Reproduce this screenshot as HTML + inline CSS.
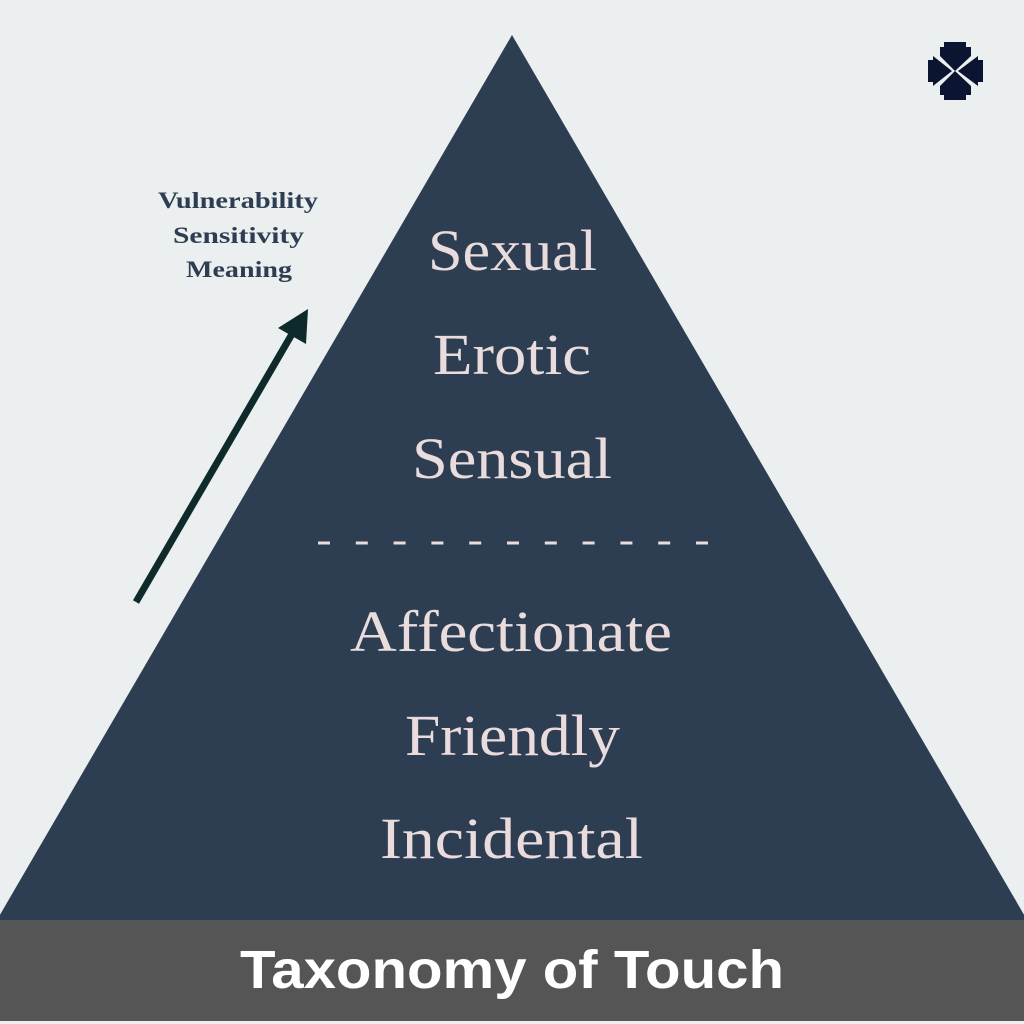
<!DOCTYPE html>
<html><head><meta charset="utf-8"><style>
html,body{margin:0;padding:0;background:#ebeff0;}
svg{display:block}
</style></head><body>
<svg width="1024" height="1024" viewBox="0 0 1024 1024" xmlns="http://www.w3.org/2000/svg">
<rect width="1024" height="1024" fill="#ebeff0"/>
<polygon points="512,35 -6,925 1030,925" fill="#2e3e52"/>
<rect x="0" y="920" width="1024" height="101" fill="#555555"/>
<g font-family="Liberation Serif, serif" font-size="58" fill="#eadcdd" lengthAdjust="spacingAndGlyphs">
<text x="428" y="270" textLength="169" lengthAdjust="spacingAndGlyphs">Sexual</text>
<text x="433" y="374" textLength="158" lengthAdjust="spacingAndGlyphs">Erotic</text>
<text x="412" y="478" textLength="200" lengthAdjust="spacingAndGlyphs">Sensual</text>
<text x="350" y="651" textLength="322" lengthAdjust="spacingAndGlyphs">Affectionate</text>
<text x="405" y="755" textLength="215" lengthAdjust="spacingAndGlyphs">Friendly</text>
<text x="380" y="858" textLength="263" lengthAdjust="spacingAndGlyphs">Incidental</text>
</g>
<line x1="318" y1="543" x2="710" y2="543" stroke="#eadcdd" stroke-width="3" stroke-dasharray="12,25.8"/>
<g font-family="Liberation Serif, serif" font-size="23" font-weight="bold" fill="#2e3e52">
<text x="158" y="208" textLength="160" lengthAdjust="spacingAndGlyphs">Vulnerability</text>
<text x="173" y="243" textLength="131" lengthAdjust="spacingAndGlyphs">Sensitivity</text>
<text x="186" y="277" textLength="106" lengthAdjust="spacingAndGlyphs">Meaning</text>
</g>
<line x1="136" y1="602" x2="292" y2="334" stroke="#0f2a2a" stroke-width="7"/>
<polygon points="308,309 306,344 278,328" fill="#0f2a2a"/>
<text x="240" y="988" font-family="Liberation Sans, sans-serif" font-weight="bold" font-size="54" fill="#ffffff" textLength="544" lengthAdjust="spacingAndGlyphs">Taxonomy of Touch</text>
<g fill="#0b1430">
<polygon points="944,42 966,42 966,47 971,47 971,56 955,71 940,56 940,47 944,47"/>
<polygon points="944,100 966,100 966,95 971,95 971,86 955,71 940,86 940,95 944,95"/>
<polygon points="928,60 928,82 933,82 933,86 952,71 933,56 933,60"/>
<polygon points="983,60 983,82 978,82 978,86 958,71 978,56 978,60"/>
</g>
</svg>
</body></html>
